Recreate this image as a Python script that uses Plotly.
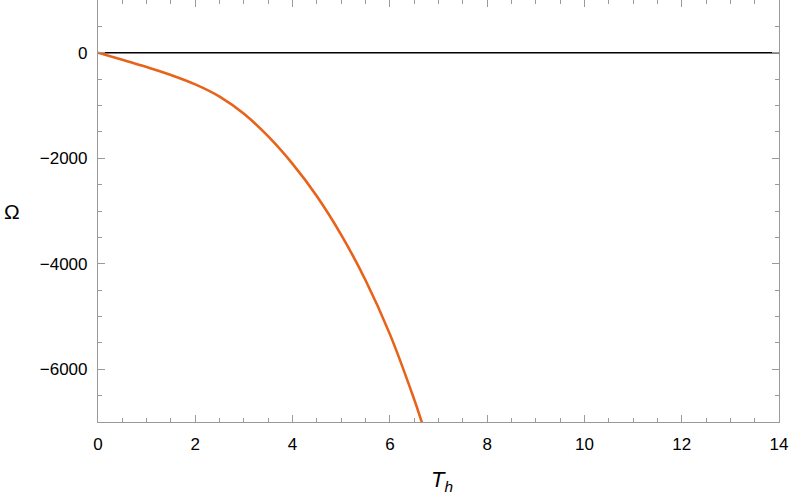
import plotly.graph_objects as go

# values
T_h = [0, 0.5, 1.0, 1.5, 2.0, 2.5, 3.0, 3.5, 4.0, 4.5, 5.0, 5.5, 6.0, 6.5, 6.65, 6.75]
omega = [0, -133, -271, -422, -600, -832, -1157, -1587, -2107, -2720, -3452, -4312, -5334, -6572, -6985, -7270]

x_ticks = [0, 2, 4, 6, 8, 10, 12, 14]
y_ticks = [0, -2000, -4000, -6000]
y_labels = ["0", "\u22122000", "\u22124000", "\u22126000"]

font = "Liberation Sans, Arial, sans-serif"
frame = "#9a9a9a"

W, H = 793, 497
ML, MR, MT, MB = 98, 14, 0, 75

fig = go.Figure([
    go.Scatter(
        x=[0, 14], y=[0, 0],
        mode="lines",
        line=dict(color="black", width=1.3),
        hoverinfo="skip",
    ),
    go.Scatter(
        x=T_h, y=omega,
        mode="lines",
        line=dict(color="#E8631A", width=2.6, shape="spline", smoothing=1.1),
    ),
])

fig.update_xaxes(
    range=[0, 14],
    tickvals=x_ticks,
    ticks="inside", ticklen=7, tickwidth=1, tickcolor=frame,
    minor=dict(ticks="inside", dtick=0.5, ticklen=4, tickcolor=frame),
    showline=True, linecolor=frame, linewidth=1.2, mirror="allticks",
    showgrid=False, zeroline=False, automargin=False,
    tickfont=dict(family=font, size=17, color="black"),
    ticklabelstandoff=6,
)
fig.update_yaxes(
    range=[-7000, 1000],
    tickvals=y_ticks, ticktext=y_labels,
    ticks="inside", ticklen=7, tickwidth=1, tickcolor=frame,
    minor=dict(ticks="inside", dtick=500, ticklen=4, tickcolor=frame),
    showline=True, linecolor=frame, linewidth=1.2, mirror="allticks",
    showgrid=False, zeroline=False, automargin=False,
    tickfont=dict(family=font, size=17, color="black"),
    ticklabelstandoff=6,
)


def px(x, y):
    # pixel position -> paper coordinates
    return (x - ML) / (W - ML - MR), (H - MB - y) / (H - MT - MB)


ox, oy = px(12, 211)
tx, ty = px(442, 481)

fig.update_layout(
    width=W, height=H,
    plot_bgcolor="white", paper_bgcolor="white",
    showlegend=False,
    margin=dict(l=ML, r=MR, t=MT, b=MB),
    font=dict(family=font),
    annotations=[
        dict(text="\u03a9", x=ox, y=oy, xref="paper", yref="paper",
             xanchor="center", yanchor="middle", showarrow=False,
             font=dict(family=font, size=21, color="black")),
        dict(text="<i>T</i><sub><i>h</i></sub>", x=tx, y=ty, xref="paper", yref="paper",
             xanchor="center", yanchor="middle", showarrow=False,
             font=dict(family=font, size=22, color="black")),
    ],
)

fig.write_html("out.html", config={"displayModeBar": False},
               post_script="document.body.style.margin='0px';")
